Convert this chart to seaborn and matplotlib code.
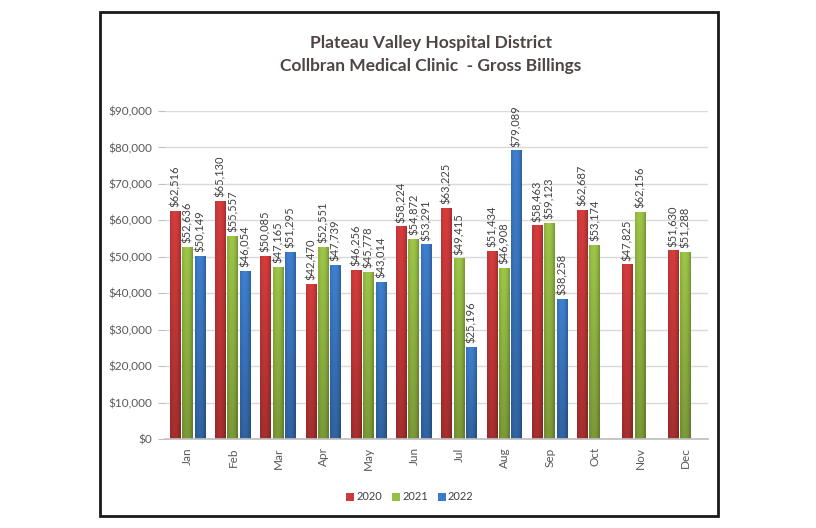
import numpy as np
import pandas as pd
import matplotlib
matplotlib.use("Agg")
import matplotlib.pyplot as plt
from matplotlib.patches import Rectangle
from matplotlib.colors import to_rgb
import seaborn as sns

months = ["Jan", "Feb", "Mar", "Apr", "May", "Jun", "Jul", "Aug", "Sep", "Oct", "Nov", "Dec"]
v2020 = [62516, 65130, 50085, 42470, 46256, 58224, 63225, 51434, 58463, 62687, 47825, 51630]
v2021 = [52636, 55557, 47165, 52551, 45778, 54872, 49415, 46908, 59123, 53174, 62156, 51288]
v2022 = [50149, 46054, 51295, 47739, 43014, 53291, 25196, 79089, 38258, np.nan, np.nan, np.nan]
years = ["2020", "2021", "2022"]
colors = ["#CE3A3A", "#98BF45", "#3C7BC8"]

df = pd.DataFrame({
    "Month": months * 3,
    "Year": [years[0]] * 12 + [years[1]] * 12 + [years[2]] * 12,
    "Value": v2020 + v2021 + v2022,
})

sns.set_theme(style="white")
plt.rcParams['font.family'] = ['Lato', 'DejaVu Sans']

fig = plt.figure(figsize=(8.16, 5.28), dpi=100)
ax = fig.add_axes([165/816, 1-439/528, (708-165)/816, (439-111)/528])

sns.barplot(data=df, x="Month", y="Value", hue="Year", palette=colors, saturation=1,
            width=0.82, gap=0.12, ax=ax, order=months, hue_order=years,
            edgecolor="none", linewidth=0, legend=True)

ax.set_xlim(-0.5, 11.5)
ax.set_ylim(0, 90000)

# cylinder-like shading on each bar
xs = np.linspace(0, 1, 24)
hfac = 0.92 + 0.12 * np.sin(np.pi * np.clip(xs * 1.15, 0, 1)) - 0.12 * np.clip((xs - 0.8) / 0.2, 0, 1)
ys = np.linspace(0, 1, 60)  # 0 = top row
vfac = 1.0 - 0.22 * ys
for cont, col in zip(ax.containers, colors):
    base = np.array(to_rgb(col))
    for p in cont.patches:
        h = p.get_height()
        if not np.isfinite(h) or h <= 0:
            continue
        x0, w = p.get_x(), p.get_width()
        img = base[None, None, :] * vfac[:, None, None] * hfac[None, :, None]
        img = np.clip(img, 0, 1)
        ax.imshow(img, extent=[x0, x0 + w, 0, h], aspect="auto", zorder=p.get_zorder(),
                  interpolation="bilinear")
        p.set_facecolor("none")

ax.set_xlim(-0.5, 11.5)
ax.set_ylim(0, 90000)
ax.set_aspect("auto")

ax.set_yticks(np.arange(0, 90001, 10000))
ax.set_yticklabels([f"${v:,.0f}" for v in np.arange(0, 90001, 10000)], fontsize=8.5, color="#595959")
ax.tick_params(axis="y", length=5, color="#BFBFBF", width=0.8, pad=4, left=True)
ax.tick_params(axis="x", length=0, pad=6)
for lbl in ax.get_xticklabels():
    lbl.set_rotation(90)
    lbl.set_fontsize(8.5)
    lbl.set_color("#595959")
ax.set_xlabel("")
ax.set_ylabel("")
ax.yaxis.grid(True, color="#D9D9D9", linewidth=1)
ax.set_axisbelow(True)
for s in ["top", "right", "left"]:
    ax.spines[s].set_visible(False)
ax.spines["bottom"].set_color("#BFBFBF")

for cont in ax.containers:
    labels = ["" if np.isnan(v) else f"${v:,.0f}" for v in cont.datavalues]
    ax.bar_label(cont, labels=labels, rotation=90, fontsize=8, color="#404040",
                 padding=3, clip_on=False)

leg = ax.legend(loc="center", bbox_to_anchor=(410/816, 1-497/528), bbox_transform=fig.transFigure,
                ncol=3, frameon=False, fontsize=8, handlelength=0.7, handleheight=0.7,
                handletextpad=0.2, columnspacing=0.9)
for t in leg.get_texts():
    t.set_color("#404040")

fig.text(431/816, 1-43/528, "Plateau Valley Hospital District", ha="center", va="center",
         fontsize=12.5, fontweight="bold", color="#4F4545")
fig.text(431/816, 1-66/528, "Collbran Medical Clinic  - Gross Billings", ha="center", va="center",
         fontsize=12.5, fontweight="bold", color="#4F4545")

fig.patches.append(Rectangle((100/816, 1-516/528), (718-100)/816, (516-12)/528,
                             transform=fig.transFigure, fill=False, edgecolor="#1A1A1A",
                             linewidth=2, zorder=10))

fig.savefig("out.png", dpi=100, facecolor="white")
